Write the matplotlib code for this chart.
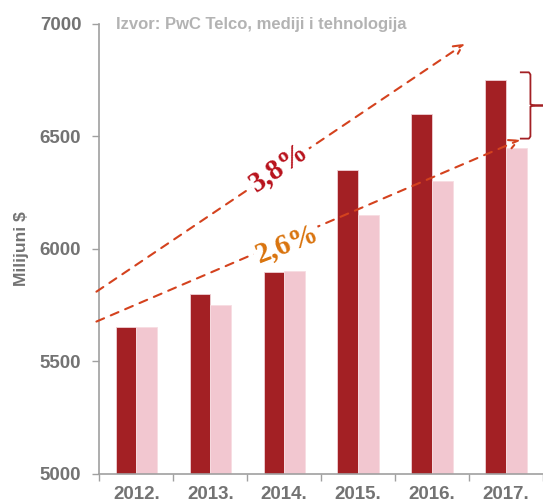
import numpy as np
import matplotlib
matplotlib.use("Agg")
import matplotlib.pyplot as plt
from matplotlib.patches import FancyArrowPatch

# values (milijuni $)
years = ['2012.', '2013.', '2014.', '2015.', '2016.', '2017.']
series_high = [5650, 5800, 5895, 6350, 6600, 6750]
series_low = [5650, 5750, 5900, 6150, 6300, 6450]
rates = ['3,8%', '2,6%']

dark = '#a32024'
pink = '#f2c7d0'
gray = '#737373'
arrow_col = '#d4421e'

plt.rcParams['font.family'] = ['Liberation Sans', 'DejaVu Sans']

fig = plt.figure(figsize=(5.43, 5.0), dpi=100)
ax = fig.add_axes([0.183, 0.053, 0.817, 0.899])

x = np.arange(len(years))
w = 0.28
ax.bar(x - w / 2, series_high, width=w, color=dark, edgecolor='#f0d0d4', linewidth=0.6)
ax.bar(x + w / 2, series_low, width=w, color=pink, edgecolor='#f7dde2', linewidth=0.6)

ax.set_ylim(5000, 7000)
ax.set_xlim(-0.5, 5.5)
ax.set_yticks([5000, 5500, 6000, 6500, 7000])
ax.set_xticks(x)
ax.set_xticklabels(years)
ax.set_xticks(np.arange(-0.5, 6.0, 1.0), minor=True)
ax.tick_params(axis='x', which='major', length=0, pad=9, labelsize=13.5, labelcolor=gray)
ax.tick_params(axis='x', which='minor', length=5, color='#a0a0a0', width=1)
ax.tick_params(axis='y', length=5, color='#a0a0a0', width=1, labelsize=13.5, labelcolor=gray, pad=8)
for lab in ax.get_xticklabels() + ax.get_yticklabels():
    lab.set_fontweight('bold')

for s in ['top', 'right']:
    ax.spines[s].set_visible(False)
for s in ['left', 'bottom']:
    ax.spines[s].set_color('#a0a0a0')
    ax.spines[s].set_linewidth(1.2)

ax.set_ylabel('Milijuni $', fontsize=12.5, color=gray, fontweight='bold', labelpad=8)

ax.text(0.038, 0.998, 'Izvor: PwC Telco, mediji i tehnologija', transform=ax.transAxes,
        fontsize=12, color='#b3b3b3', fontweight='bold', va='center', ha='left')

# trend arrows
for start, end in [((-0.54, 5809), (4.44, 6912)), ((-0.54, 5676), (5.19, 6485))]:
    arr = FancyArrowPatch(start, end, arrowstyle='->', mutation_scale=16,
                          color=arrow_col, linestyle=(0, (4, 3.5)), linewidth=1.5,
                          clip_on=False, shrinkA=0, shrinkB=0, zorder=3)
    ax.add_patch(arr)

box = dict(facecolor='white', edgecolor='none', pad=1.5)
ax.text(1.93, 6365, rates[0], rotation=35, fontsize=21, color='#b8121c', fontweight='bold',
        family=['Liberation Serif', 'DejaVu Serif'], ha='center', va='center', bbox=box, zorder=4)
ax.text(2.03, 6025, rates[1], rotation=21, fontsize=21, color='#d9730d', fontweight='bold',
        family=['Liberation Serif', 'DejaVu Serif'], ha='center', va='center', bbox=box, zorder=4)

# brace on the right
bx0, bx1 = 5.2, 5.33
ytop, ybot = 6785, 6490
ymid = (ytop + ybot) / 2
ax.plot([bx0, bx1 - 0.02, bx1, bx1, bx1 + 0.05, bx1, bx1, bx1 - 0.02, bx0],
        [ytop, ytop, ytop - 10, ymid + 5, ymid, ymid - 5, ybot + 10, ybot, ybot],
        color=dark, linewidth=1.3, clip_on=False)
ax.plot([bx1 + 0.05, 5.6], [ymid, ymid], color=dark, linewidth=1.8, clip_on=False)

fig.savefig('out.png', dpi=100)
